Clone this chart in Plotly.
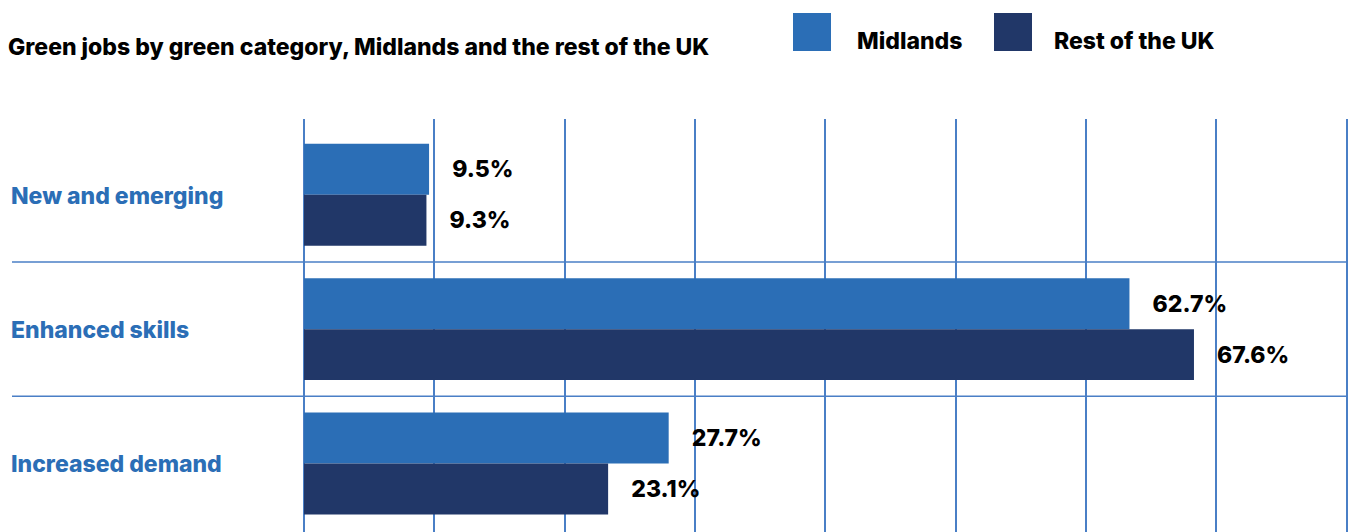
import plotly.graph_objects as go

# ---- data ----
categories = ["New and emerging", "Enhanced skills", "Increased demand"]
midlands = [9.5, 62.7, 27.7]
rest_of_uk = [9.3, 67.6, 23.1]
series_names = ["Midlands", "Rest of the UK"]
title_text = "Green jobs by green category, Midlands and the rest of the UK"

# ---- geometry / style ----
W, H = 1348, 532
ML, MT = 304, 119
PW, PH = W - ML, H - MT

BLUE = "#2b6eb6"
NAVY = "#213768"
GRID = "#4a7fc6"
FONT = "Inter"
FS = 23
WT = 800

fig = go.Figure()
for name, vals, col in [(series_names[0], midlands, BLUE),
                        (series_names[1], rest_of_uk, NAVY)]:
    fig.add_bar(
        y=categories, x=vals, orientation="h", name=name,
        marker=dict(color=col, line=dict(width=0)),
        texttemplate="\u00a0\u00a0\u00a0\u00a0%{x:.1f}%",
        textposition="outside", cliponaxis=False,
        textfont=dict(family=FONT, size=FS, color="black", weight=WT),
        hoverinfo="skip",
    )

def px_x(p):
    return (p - ML) / PW

def px_y(p):
    return (H - p) / PH

# category labels
for c in categories:
    fig.add_annotation(
        x=px_x(9), xref="paper", xanchor="left",
        y=c, yref="y", yanchor="middle", yshift=-1,
        text=c, showarrow=False,
        font=dict(family=FONT, size=FS, color=BLUE, weight=WT),
    )

# separators between categories
for i in range(len(categories) - 1):
    fig.add_shape(
        type="line", xref="paper", yref="y",
        x0=px_x(12), x1=1, y0=i + 0.5, y1=i + 0.5,
        line=dict(color=GRID, width=1.5),
    )

# legend (custom)
for name, col, sq_x, tx_x in [(series_names[0], BLUE, 793, 855),
                              (series_names[1], NAVY, 994, 1052)]:
    fig.add_shape(
        type="rect", xref="paper", yref="paper",
        x0=px_x(sq_x), x1=px_x(sq_x + 38), y0=px_y(51), y1=px_y(13),
        fillcolor=col, line=dict(width=0),
    )
    fig.add_annotation(
        x=px_x(tx_x), xref="paper", xanchor="left",
        y=px_y(41), yref="paper", yanchor="middle",
        text=name, showarrow=False,
        font=dict(family=FONT, size=FS, color="black", weight=WT),
    )

fig.update_layout(
    width=W, height=H,
    margin=dict(l=ML, r=0, t=MT, b=0, pad=0),
    paper_bgcolor="white", plot_bgcolor="white",
    barmode="group", bargap=0.241, bargroupgap=0,
    showlegend=False,
    title=dict(
        text=title_text, x=8 / W, xanchor="left", xref="container",
        y=1 - 47 / H, yanchor="middle", yref="container",
        font=dict(family=FONT, size=FS, color="black", weight=WT),
    ),
    xaxis=dict(
        range=[0, 79.3], tick0=0, dtick=9.9,
        showgrid=True, gridcolor=GRID, gridwidth=1.5,
        zeroline=True, zerolinecolor=GRID, zerolinewidth=1.5,
        showticklabels=False, ticks="", showline=False, fixedrange=True,
    ),
    yaxis=dict(
        range=[2.51, -0.564],
        showgrid=False, zeroline=False, showline=False,
        showticklabels=False, ticks="", fixedrange=True,
    ),
)

fig.write_html("out.html")
